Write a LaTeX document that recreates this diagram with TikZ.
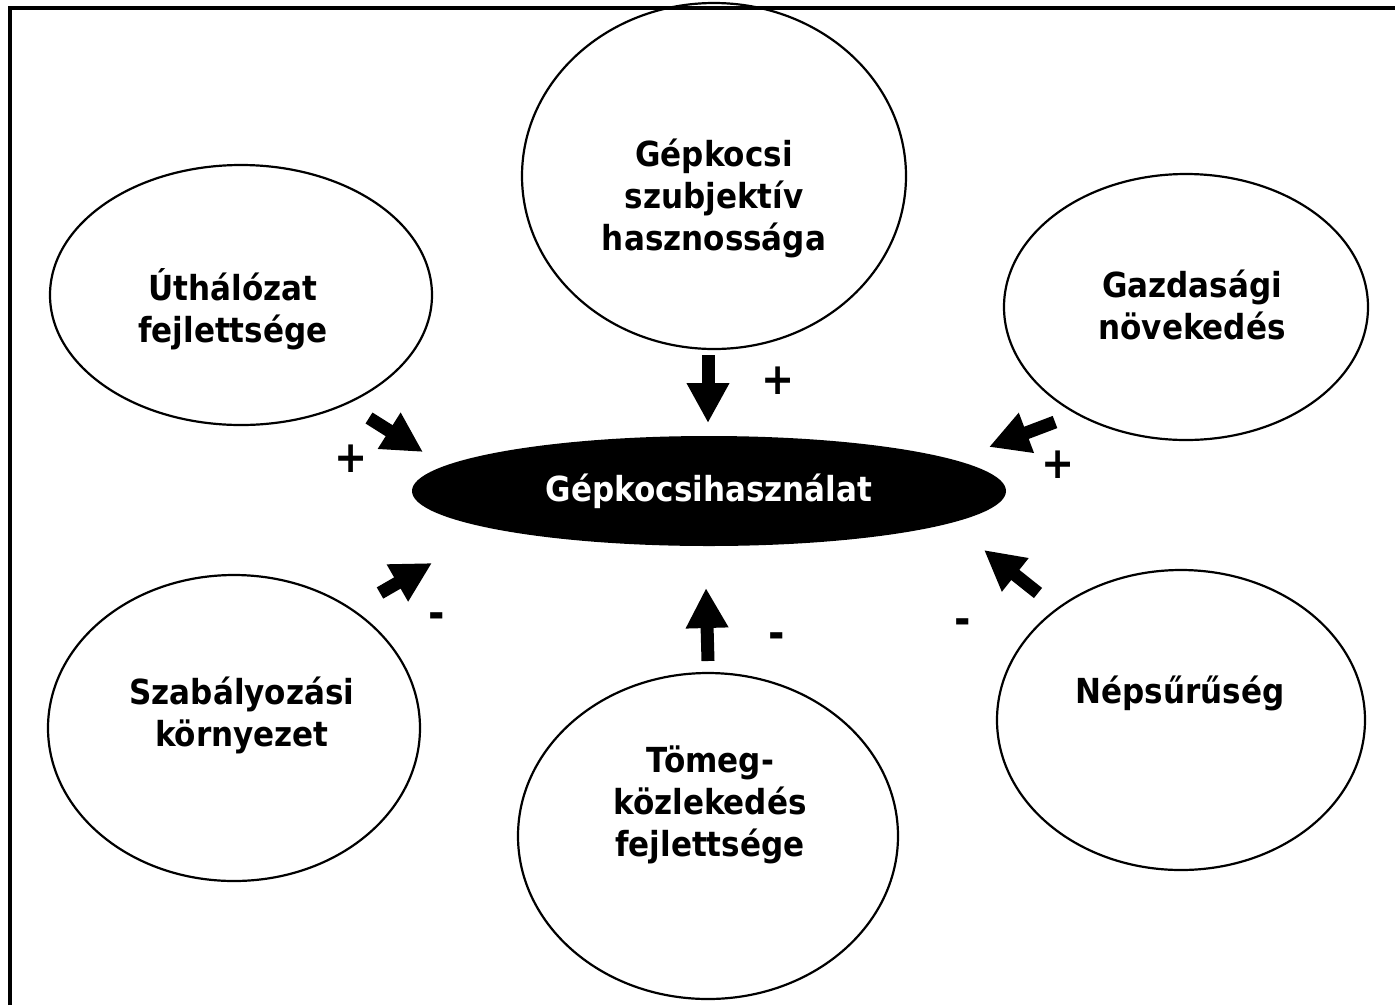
\documentclass[tikz,border=0pt]{standalone}
\usepackage{fontspec}
\setmainfont{DejaVu Sans Condensed}
\usetikzlibrary{arrows.meta,shapes.geometric}
\tikzset{
	factor/.style={ellipse, draw, line width=2.2pt, inner sep=0pt},
	caption/.style={align=center, font=\fontsize{34.5}{42}\selectfont\bfseries},
	push/.style={line width=13pt, -{Triangle[width=40pt,length=40pt]}},
	sign/.style={inner sep=0pt, font=\fontsize{44}{44}\selectfont\bfseries}
}
\begin{document}
\begin{tikzpicture}[x=1pt, y=-1pt]
	\useasboundingbox (0,0) rectangle (1395,1005);
	\draw[line width=4pt] (10,1005) -- (10,8) -- (1395,8);

	\node[factor, minimum width=384pt, minimum height=346pt] (haszon) at (714,176) {};
	\node[factor, minimum width=382pt, minimum height=260pt] (ut) at (241,295) {};
	\node[factor, minimum width=364pt, minimum height=266pt] (gazd) at (1186,307) {};
	\node[factor, minimum width=372pt, minimum height=306pt] (szab) at (234,728) {};
	\node[factor, minimum width=380pt, minimum height=326pt] (tomeg) at (708,836) {};
	\node[factor, minimum width=368pt, minimum height=300pt] (nep) at (1181,720) {};
	\node[ellipse, fill=black, inner sep=0pt, minimum width=594pt, minimum height=110pt,
		caption, text=white] (auto) at (709,491) {Gépkocsihasználat};

	\node[caption] (haszontxt) at (714,198) {Gépkocsi\\szubjektív\\hasznossága};
	\node[caption] (uttxt) at (233,309) {Úthálózat\\fejlettsége};
	\node[caption] (gazdtxt) at (1192,305) {Gazdasági\\növekedés};
	\node[caption] (szabtxt) at (242,715) {Szabályozási\\környezet};
	\node[caption] (tomegtxt) at (710,805) {Tömeg-\\közlekedés\\fejlettsége};
	\node[caption] (neptxt) at (1180,693) {Népsűrűség};

	\coordinate (haszonfrom) at (708,355); \coordinate (haszonto) at (708,423);
	\coordinate (utfrom) at (369,418); \coordinate (utto) at (423,452);
	\coordinate (gazdfrom) at (1055,422); \coordinate (gazdto) at (989,447);
	\coordinate (szabfrom) at (380,593); \coordinate (szabto) at (432,563);
	\coordinate (tomegfrom) at (708,661); \coordinate (tomegto) at (706,588);
	\coordinate (nepfrom) at (1038,593); \coordinate (nepto) at (984,550);
	\foreach \f in {haszon,ut,gazd,szab,tomeg,nep}
		\draw[push] (\f from) -- (\f to);

	\node[sign] (haszonsign) at (778,381) {+};
	\node[sign] (utsign) at (351,459) {+};
	\node[sign] (gazdsign) at (1058,465) {+};
	\node[sign] (szabsign) at (437,621) {-};
	\node[sign] (tomegsign) at (777,641) {-};
	\node[sign] (nepsign) at (963,627) {-};
\end{tikzpicture}
\end{document}
